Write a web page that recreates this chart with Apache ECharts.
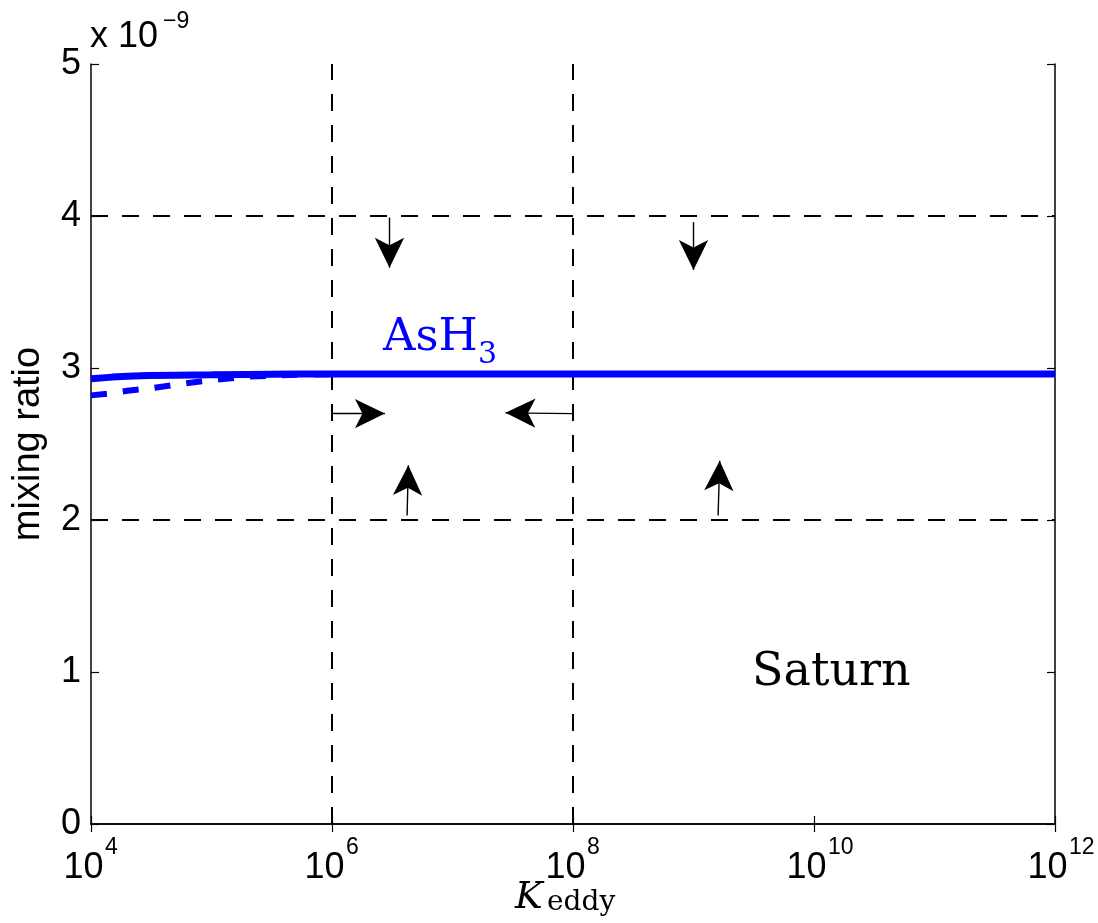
<!DOCTYPE html>
<html>
<head>
<meta charset="utf-8">
<script src="https://cdn.jsdelivr.net/npm/echarts@6/dist/echarts.min.js"></script>
<style>html,body{margin:0;padding:0;background:#fff}#c{width:1098px;height:923px}</style>
</head>
<body>
<div id="c"></div>
<script>
// K_eddy values (cm^2/s)
const K = [1e4, 1.5e4, 2e4, 3e4, 5e4, 1e5, 2e5, 5e5, 1e6, 1e7, 1e8, 1e9, 1e10, 1e11, 1e12];
// mixing ratio, units of 1e-9
const solidVals  = [2.93, 2.94, 2.945, 2.95, 2.953, 2.955, 2.958, 2.96, 2.96, 2.96, 2.96, 2.96, 2.96, 2.96, 2.96];
const dashedVals = [2.82, 2.835, 2.85, 2.865, 2.89, 2.92, 2.943, 2.955, 2.96, 2.96, 2.96, 2.96, 2.96, 2.96, 2.96];
// reference dashed lines
const refK = [1e6, 1e8];
const refY = [2, 4];
// arrows: [startK, startY, endK, endY]
const arrows = [
  [3.0e6, 3.99, 3.0e6, 3.66],
  [1.0e9, 3.96, 1.0e9, 3.645],
  [4.2e6, 2.03, 4.3e6, 2.36],
  [1.6e9, 2.03, 1.65e9, 2.39],
  [1.0e6, 2.70, 2.75e6, 2.70],
  [1.0e8, 2.70, 2.75e7, 2.705]
];
const yTicks = [0, 1, 2, 3, 4, 5];

const chart = echarts.init(document.getElementById('c'), null, {renderer: 'canvas'});
const sans = 'Liberation Sans, Arial, Helvetica, sans-serif';
const serif = 'DejaVu Serif, serif';

const arrowLines = arrows.map(a => [
  {coord: [a[0], a[1]], symbol: 'none'},
  {coord: [a[2], a[3]], symbol: 'arrow', symbolSize: [22, 30]}
]);
const refLines = refK.map(k => ({xAxis: k})).concat(refY.map(v => ({yAxis: v})));

const baseX = {
  type: 'log', logBase: 10, min: K[0], max: K[K.length - 1], interval: 2,
  axisLine: {show: true, lineStyle: {color: '#000', width: 1.5}},
  axisTick: {show: true, inside: true, length: 8, lineStyle: {color: '#000', width: 1.2}},
  minorTick: {show: false},
  splitLine: {show: false}
};
const baseY = {
  type: 'value', min: yTicks[0], max: yTicks[yTicks.length - 1], interval: 1,
  axisLine: {show: true, lineStyle: {color: '#000', width: 1.5}},
  axisTick: {show: true, inside: true, length: 8, lineStyle: {color: '#000', width: 1.2}},
  splitLine: {show: false}
};

chart.setOption({
  animation: false,
  backgroundColor: '#fff',
  grid: {left: 91, right: 43, top: 64, bottom: 99, containLabel: false, outerBoundsMode: 'none'},
  xAxis: [
    Object.assign({}, baseX, {
      position: 'bottom',
      axisLabel: {
        margin: 26, fontSize: 36, fontFamily: sans, color: '#000',
        align: 'center', padding: [0, 15, 0, 0],
        formatter: () => '10'
      }
    }),
    Object.assign({}, baseX, {position: 'top', axisLabel: {show: false}}),
    Object.assign({}, baseX, {
      position: 'bottom',
      axisLine: {show: false}, axisTick: {show: false},
      axisLabel: {
        margin: 12, fontSize: 23, fontFamily: sans, color: '#000',
        align: 'left', padding: [0, 0, 0, 14],
        formatter: v => String(Math.round(Math.log10(v)))
      }
    })
  ],
  yAxis: [
    Object.assign({}, baseY, {
      position: 'left',
      name: 'mixing ratio', nameLocation: 'middle', nameRotate: 90, nameGap: 43,
      nameTextStyle: {fontSize: 38, fontFamily: sans, color: '#000'},
      axisLabel: {margin: 10, fontSize: 36, fontFamily: sans, color: '#000'}
    }),
    Object.assign({}, baseY, {position: 'right', axisLabel: {show: false}})
  ],
  series: [
    {
      type: 'line', name: 'dashed', data: K.map((k, i) => [k, dashedVals[i]]),
      showSymbol: false, symbol: 'none', z: 3,
      lineStyle: {color: '#0000ff', width: 6, type: [16, 16]},
      markLine: {
        silent: true, z: 1, symbol: 'none', label: {show: false},
        lineStyle: {color: '#000', width: 2, type: [17, 14]},
        data: refLines
      }
    },
    {
      type: 'line', name: 'solid', data: K.map((k, i) => [k, solidVals[i]]),
      showSymbol: false, symbol: 'none', z: 4,
      lineStyle: {color: '#0000ff', width: 7},
      markLine: {
        silent: true, z: 6, label: {show: false},
        lineStyle: {color: '#000', width: 1.4, type: 'solid'},
        itemStyle: {color: '#000'},
        data: arrowLines
      }
    }
  ],
  graphic: [
    {type: 'text', left: 90, top: 19, style: {text: 'x 10', font: '36px ' + sans, fill: '#000'}},
    {type: 'text', left: 163, top: 10, style: {text: '\u22129', font: '23px ' + sans, fill: '#000'}},
    {type: 'text', left: 383, top: 316, style: {text: 'AsH', font: '45px ' + serif, fill: '#0000ff'}},
    {type: 'text', left: 478, top: 340, style: {text: '3', font: '30px ' + serif, fill: '#0000ff'}},
    {type: 'text', left: 752, top: 650, style: {text: 'Saturn', font: '46px ' + serif, fill: '#000'}},
    {type: 'text', left: 515, top: 880, style: {text: 'K', font: 'italic 37px ' + serif, fill: '#000'}},
    {type: 'text', left: 547, top: 889, style: {text: 'eddy', font: '28px ' + serif, fill: '#000'}}
  ]
});
</script>
</body>
</html>
